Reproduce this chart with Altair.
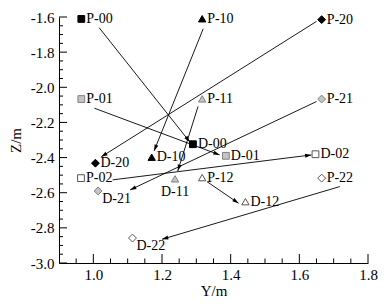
import math
import altair as alt
import pandas as pd

# ---- data ----
point_names = ["P-00", "P-10", "P-20", "P-01", "P-11", "P-21", "P-02", "P-12", "P-22",
               "D-00", "D-10", "D-20", "D-01", "D-11", "D-21", "D-02", "D-12", "D-22"]
point_y = [0.965, 1.317, 1.665, 0.965, 1.317, 1.665, 0.964, 1.317, 1.665,
           1.290, 1.170, 1.006, 1.386, 1.238, 1.014, 1.647, 1.443, 1.114]
point_z = [-1.611, -1.610, -1.615, -2.067, -2.066, -2.067, -2.517, -2.514, -2.517,
           -2.324, -2.398, -2.432, -2.390, -2.521, -2.590, -2.381, -2.651, -2.858]
label_place = ["right"] * 9 + ["right", "right", "right", "right", "below",
                               "lowright", "right", "right", "lowright"]

arrow_tail_y = [1.017, 1.320, 1.650, 1.003, 1.305, 1.650, 1.056, 1.331, 1.718]
arrow_tail_z = [-1.661, -1.667, -1.625, -2.119, -2.109, -2.081, -2.527, -2.537, -2.565]
arrow_head_y = [1.281, 1.177, 1.023, 1.368, 1.246, 1.107, 1.635, 1.423, 1.200]
arrow_head_z = [-2.311, -2.362, -2.396, -2.385, -2.476, -2.584, -2.385, -2.660, -2.865]

x_major = [1.0, 1.2, 1.4, 1.6, 1.8]
x_minor = [0.95, 1.05, 1.1, 1.15, 1.25, 1.3, 1.35, 1.45, 1.5, 1.55,
           1.65, 1.7, 1.75]
z_major = [-1.6, -1.8, -2.0, -2.2, -2.4, -2.6, -2.8, -3.0]
z_minor = [-1.65, -1.7, -1.75, -1.85, -1.9, -1.95, -2.05, -2.1, -2.15,
           -2.25, -2.3, -2.35, -2.45, -2.5, -2.55, -2.65, -2.7, -2.75,
           -2.85, -2.9, -2.95]

X_DOM = [0.9, 1.8]
Z_DOM = [-3.0, -1.6]
W, H = 309, 246
FONT = "Liberation Serif"

pts = pd.DataFrame({
    "name": point_names, "y": point_y, "z": point_z, "place": label_place,
})
pts["group"] = pts["name"].str[2]
pts["style"] = pts["name"].str[3]

arr = pd.DataFrame({"y1": arrow_tail_y, "z1": arrow_tail_z,
                    "y2": arrow_head_y, "z2": arrow_head_z})
sx = W / (X_DOM[1] - X_DOM[0])
sz = H / (Z_DOM[1] - Z_DOM[0])
angles = []
for a, b, c, d in zip(arrow_tail_y, arrow_tail_z, arrow_head_y, arrow_head_z):
    dxs = (c - a) * sx
    dys = -(d - b) * sz
    angles.append(math.degrees(math.atan2(dxs, -dys)) % 360)
arr["angle"] = angles

xs = alt.Scale(domain=X_DOM, nice=False, zero=False)
zs = alt.Scale(domain=Z_DOM, nice=False, zero=False)

AX = alt.Axis(title="Y/m", values=x_major, format=".1f", ticks=False, grid=False,
              labelOverlap=False, labelFlush=False, labelPadding=4, titlePadding=1)
AZ = alt.Axis(title="Z/m", values=z_major, ticks=False, grid=False,
              labelOverlap=False, labelFlush=False,
              labelExpr="'-' + format(abs(datum.value), '.1f')",
              labelPadding=5, titlePadding=7)


def X(f):
    return alt.X(f, scale=xs, axis=AX)


def Z(f):
    return alt.Y(f, scale=zs, axis=AZ)


lines = alt.Chart(arr).mark_rule(color="black", strokeWidth=0.9).encode(
    x=X("y1:Q"), y=Z("z1:Q"), x2="y2:Q", y2="z2:Q",
)

heads = alt.Chart(arr).mark_point(
    shape="M0,0L0.38,1.2L-0.38,1.2Z", filled=True, color="black",
    size=110, opacity=1,
).encode(
    x=X("y2:Q"), y=Z("z2:Q"),
    angle=alt.Angle("angle:Q", scale=None),
)

markers = alt.Chart(pts).mark_point(filled=True, opacity=1, strokeWidth=1).encode(
    x=X("y:Q"), y=Z("z:Q"),
    shape=alt.Shape("group:N", scale=alt.Scale(
        domain=["0", "1", "2"], range=["square", "triangle-up", "diamond"]), legend=None),
    fill=alt.Fill("style:N", scale=alt.Scale(
        domain=["0", "1", "2"], range=["#000000", "#c4c4c4", "#ffffff"]), legend=None),
    stroke=alt.Stroke("style:N", scale=alt.Scale(
        domain=["0", "1", "2"], range=["#000000", "#808080", "#555555"]), legend=None),
    size=alt.Size("group:N", scale=alt.Scale(
        domain=["0", "1", "2"], range=[46, 62, 66]), legend=None),
)


def labels(place, align, dx, dy):
    return alt.Chart(pts).transform_filter(
        alt.datum.place == place
    ).mark_text(font=FONT, fontSize=14, color="black", align=align,
                baseline="middle", dx=dx, dy=dy).encode(
        x=X("y:Q"), y=Z("z:Q"), text="name:N")


lab_r = labels("right", "left", 5, 0)
lab_b = labels("below", "center", 0, 13)
lab_lr = labels("lowright", "left", 4, 8)

xt_major = alt.Chart(pd.DataFrame({"v": x_major})).mark_rule(color="black").encode(
    x=X("v:Q"), y=alt.value(H), y2=alt.value(H - 9))
xt_minor = alt.Chart(pd.DataFrame({"v": x_minor})).mark_rule(color="black").encode(
    x=X("v:Q"), y=alt.value(H), y2=alt.value(H - 4.5))
zt_major = alt.Chart(pd.DataFrame({"v": z_major})).mark_rule(color="black").encode(
    y=Z("v:Q"), x=alt.value(0), x2=alt.value(8))
zt_minor = alt.Chart(pd.DataFrame({"v": z_minor})).mark_rule(color="black").encode(
    y=Z("v:Q"), x=alt.value(0), x2=alt.value(4))

chart = alt.layer(
    lines, heads, xt_major, xt_minor, zt_major, zt_minor,
    markers, lab_r, lab_b, lab_lr,
).properties(
    width=W, height=H, autosize="none",
    padding={"left": 51, "top": 9, "right": 10, "bottom": 36},
    background="white",
).configure_view(stroke=None).configure_axis(
    labelFont=FONT, titleFont=FONT, labelFontSize=15, titleFontSize=15,
    labelColor="black", titleColor="black", domainColor="black",
    titleFontWeight="normal", domainWidth=1, labelOverlap=False,
)

chart.save("out.html", embed_options={"renderer": "svg", "actions": False})
